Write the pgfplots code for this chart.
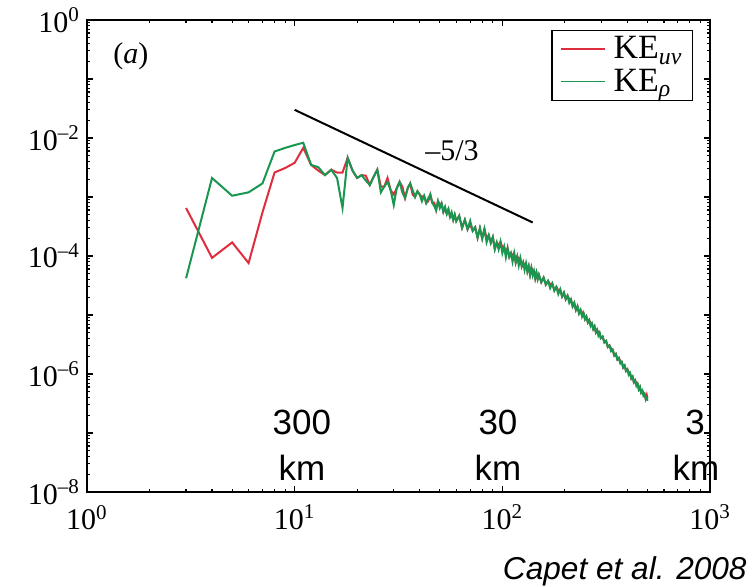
\documentclass[border=0pt]{standalone}
\usepackage{pgfplots}
\pgfplotsset{compat=1.18}
\usepackage{fontspec}
\setmainfont{Liberation Serif}
\newfontfamily\arial{Liberation Sans}
\definecolor{kered}{RGB}{222,45,60}
\definecolor{kegreen}{RGB}{25,150,80}
\begin{document}
\begin{tikzpicture}
\useasboundingbox (-43.5pt,-47.5pt) rectangle (333.5pt,246pt);
\begin{axis}[
  xmode=log, ymode=log,
  scale only axis, width=311.5pt, height=236pt,
  xmin=1, xmax=1000, ymin=1e-8, ymax=1,
  clip mode=individual,
  xtick={1,10,100,1000},
  xticklabels={10\textsuperscript{0},10\textsuperscript{1},10\textsuperscript{2},10\textsuperscript{3}},
  minor xtick={2,3,4,5,6,7,8,9,20,30,40,50,60,70,80,90,200,300,400,500,600,700,800,900},
  ytick={1e-8,1e-7,1e-6,1e-5,1e-4,1e-3,1e-2,1e-1,1},
  yticklabels={10\textsuperscript{–8},,10\textsuperscript{–6},,10\textsuperscript{–4},,10\textsuperscript{–2},,10\textsuperscript{0}},
  minor ytick={2e-8,3e-8,4e-8,5e-8,6e-8,7e-8,8e-8,9e-8,2e-7,3e-7,4e-7,5e-7,6e-7,7e-7,8e-7,9e-7,2e-6,3e-6,4e-6,5e-6,6e-6,7e-6,8e-6,9e-6,2e-5,3e-5,4e-5,5e-5,6e-5,7e-5,8e-5,9e-5,2e-4,3e-4,4e-4,5e-4,6e-4,7e-4,8e-4,9e-4,2e-3,3e-3,4e-3,5e-3,6e-3,7e-3,8e-3,9e-3,2e-2,3e-2,4e-2,5e-2,6e-2,7e-2,8e-2,9e-2,0.2,0.3,0.4,0.5,0.6,0.7,0.8,0.9},
  tick align=inside,
  major tick length=3pt, minor tick length=1.6pt,
  axis line style={line width=0.8pt},
  every tick/.append style={black, line width=0.6pt},
  tick label style={font=\fontsize{15}{18}\selectfont},
  xticklabel style={yshift=-3pt},
  legend style={at={(0.9727,0.9788)}, anchor=north east, draw=black, line width=0.6pt,
    font=\fontsize{17}{17}\selectfont, inner xsep=4pt, inner ysep=2pt, row sep=1.5pt,
    nodes={inner sep=1pt}, /tikz/every odd column/.append style={column sep=3pt}},
  legend image code/.code={\draw[#1, line width=0.8pt] (0pt,0pt) -- (22pt,0pt);},
  legend cell align=left,
]
\addplot[kered, line width=1pt] coordinates {
(3,6.5e-4)(4,9.3e-5)(5,1.7e-4)(6,7.6e-5)(7,5.5e-4)(8,2.6e-3)(9,3.1e-3)(10,3.8e-3)(11,6.8e-3)
(12,3.5e-3)(13,2.8e-3)(14,2.35e-3)(15,2.9e-3)(16,2.6e-3)(17,2.6e-3)(18,4.6e-3)(19,2.8e-3)(20,2.1e-3)
(21,2.35e-3)(22,2.3e-3)(23,1.6e-3)(24,2.2e-3)(25,2.9e-3)(26,1.5e-3)(27,1.5e-3)(28,2.1e-3)(29,1.3e-3)(30,1.1e-3)
(31,1.4e-3)(32,1.8e-3)(33,1.5e-3)(34,9.6e-4)(35,1.4e-3)(36,1.7e-3)(37,1.1e-3)(38,1.0e-3)(39,1.25e-3)(40,1.1e-3)
(41,1.0e-3)(42,1.05e-3)(43,7.9e-4)(44,8.5e-4)(45,1.1e-3)(46,8.0e-4)(47,8.0e-4)(48,6.0e-4)(49,8.5e-4)(50,7.5e-4)
(51,7.8e-4)(52,5.6e-4)(53,6.2e-4)(54,5.2e-4)(55,6.2e-4)(56,4.6e-4)(57,5.0e-4)(58,4.1e-4)(59,5.0e-4)(60,3.9e-4)
(62,4.8e-4)(64,3.0e-4)(66,4.1e-4)(68,2.85e-4)(70,3.4e-4)(72,2.67e-4)(74,3.07e-4)(76,2.04e-4)(78,2.96e-4)(80,1.98e-4)
(82,2.86e-4)(84,2.0e-4)(86,2.25e-4)(88,1.67e-4)(90,2.09e-4)(92,1.31e-4)(94,1.7e-4)(96,1.5e-4)(98,1.74e-4)(100,1.4e-4)
(102,1.44e-4)(104,1.15e-4)(106,1.36e-4)(108,9.7e-5)(110,1.12e-4)(112,1.0e-4)(114,1.12e-4)(116,7.8e-5)(118,9.8e-5)(120,8.8e-5)
(122,9.2e-5)(124,6.7e-5)(126,7.8e-5)(128,7.0e-5)(130,7.5e-5)(132,5.5e-5)(134,6.7e-5)(136,4.85e-5)(138,6.3e-5)(140,5.6e-5)
(142,5.6e-5)(144,4.2e-5)(146,5.2e-5)(148,4.07e-5)(150,4.8e-5)
(154,3.6e-5)(158,4.3e-5)(162,3.27e-5)(166,3.77e-5)(170,3.3e-5)(174,3.43e-5)(178,2.6e-5)(182,2.99e-5)(186,2.6e-5)(190,2.72e-5)
(194,2.06e-5)(198,2.39e-5)(202,1.85e-5)(206,2.12e-5)(210,1.85e-5)(214,1.84e-5)(218,1.4e-5)(222,1.6e-5)(226,1.22e-5)(230,1.4e-5)
(234,1.07e-5)(238,1.22e-5)(242,1.1e-5)(246,1.08e-5)(250,8.5e-6)(254,9.4e-6)(258,7.5e-6)(262,8.2e-6)(266,7.3e-6)(270,7.2e-6)
(274,5.8e-6)(278,6.4e-6)(282,5.1e-6)(286,5.6e-6)(290,5.0e-6)(294,5.0e-6)(298,4.05e-6)
(304,4.3e-6)(310,3.44e-6)(316,3.64e-6)(322,2.88e-6)(328,3.05e-6)(334,2.7e-6)(340,2.58e-6)(346,2.06e-6)(352,2.19e-6)(358,1.76e-6)
(364,1.87e-6)(370,1.65e-6)(376,1.6e-6)(382,1.29e-6)(388,1.39e-6)(394,1.13e-6)(400,1.2e-6)(406,1.08e-6)(412,1.04e-6)(418,8.4e-7)
(424,9.0e-7)(430,7.25e-7)(436,7.8e-7)(442,7.0e-7)(448,6.85e-7)(454,5.5e-7)(460,6.0e-7)(466,4.85e-7)(472,5.2e-7)(478,4.8e-7)
(484,4.6e-7)(490,3.8e-7)(496,4.4e-7)(500,3.9e-7)
};
\addlegendentry{KE\textsubscript{\textit{uv}}}
\addplot[kegreen, line width=1pt] coordinates {
(3,4.2e-5)(4,2.1e-3)(5,1.05e-3)(6,1.2e-3)(7,1.7e-3)(8,5.9e-3)(9,6.8e-3)(10,7.6e-3)(11,8.3e-3)
(12,3.5e-3)(13,3.2e-3)(14,2.35e-3)(15,2.9e-3)(16,2.1e-3)(17,6.5e-4)(18,4.6e-3)(19,2.8e-3)(20,2.1e-3)
(21,2.35e-3)(22,1.9e-3)(23,1.6e-3)(24,2.2e-3)(25,2.9e-3)(26,1.2e-3)(27,1.5e-3)(28,1.8e-3)(29,1.3e-3)(30,7.3e-4)
(31,1.4e-3)(32,1.8e-3)(33,1.2e-3)(34,9.6e-4)(35,1.4e-3)(36,1.7e-3)(37,1.3e-3)(38,1.0e-3)(39,1.25e-3)(40,1.1e-3)
(41,8.5e-4)(42,1.05e-3)(43,7.9e-4)(44,9.5e-4)(45,1.1e-3)(46,8.0e-4)(47,7.0e-4)(48,6.0e-4)(49,8.5e-4)(50,6.5e-4)
(51,7.8e-4)(52,5.6e-4)(53,6.8e-4)(54,5.2e-4)(55,6.2e-4)(56,4.6e-4)(57,5.5e-4)(58,4.1e-4)(59,5.0e-4)(60,3.9e-4)
(62,4.8e-4)(64,3.0e-4)(66,4.1e-4)(68,2.85e-4)(70,3.95e-4)(72,2.67e-4)(74,3.07e-4)(76,2.04e-4)(78,2.96e-4)(80,1.98e-4)
(82,2.86e-4)(84,1.71e-4)(86,2.25e-4)(88,1.67e-4)(90,2.09e-4)(92,1.31e-4)(94,1.7e-4)(96,1.29e-4)(98,1.74e-4)(100,1.12e-4)
(102,1.44e-4)(104,9.5e-5)(106,1.36e-4)(108,9.7e-5)(110,1.12e-4)(112,8.0e-5)(114,1.12e-4)(116,7.8e-5)(118,9.8e-5)(120,6.9e-5)
(122,9.2e-5)(124,6.7e-5)(126,7.8e-5)(128,5.8e-5)(130,7.5e-5)(132,5.5e-5)(134,6.7e-5)(136,4.85e-5)(138,6.3e-5)(140,4.7e-5)
(142,5.6e-5)(144,4.2e-5)(146,5.2e-5)(148,4.07e-5)(150,4.8e-5)
(154,3.6e-5)(158,4.3e-5)(162,3.27e-5)(166,3.77e-5)(170,2.85e-5)(174,3.43e-5)(178,2.6e-5)(182,2.99e-5)(186,2.26e-5)(190,2.72e-5)
(194,2.06e-5)(198,2.39e-5)(202,1.85e-5)(206,2.12e-5)(210,1.61e-5)(214,1.84e-5)(218,1.4e-5)(222,1.6e-5)(226,1.22e-5)(230,1.4e-5)
(234,1.07e-5)(238,1.22e-5)(242,9.4e-6)(246,1.08e-5)(250,8.5e-6)(254,9.4e-6)(258,7.5e-6)(262,8.2e-6)(266,6.5e-6)(270,7.2e-6)
(274,5.8e-6)(278,6.4e-6)(282,5.1e-6)(286,5.6e-6)(290,4.5e-6)(294,5.0e-6)(298,4.05e-6)
(304,4.3e-6)(310,3.44e-6)(316,3.64e-6)(322,2.88e-6)(328,3.05e-6)(334,2.44e-6)(340,2.58e-6)(346,2.06e-6)(352,2.19e-6)(358,1.76e-6)
(364,1.87e-6)(370,1.51e-6)(376,1.6e-6)(382,1.29e-6)(388,1.39e-6)(394,1.13e-6)(400,1.2e-6)(406,9.7e-7)(412,1.04e-6)(418,8.4e-7)
(424,9.0e-7)(430,7.25e-7)(436,7.8e-7)(442,6.3e-7)(448,6.85e-7)(454,5.5e-7)(460,6.0e-7)(466,4.85e-7)(472,5.2e-7)(478,4.3e-7)
(484,4.6e-7)(490,3.8e-7)(496,4.0e-7)(500,3.5e-7)
};
\addlegendentry{KE\textsubscript{\textit{ρ}}}
\addplot[black, line width=1pt, forget plot] coordinates {(10,0.03)(140,3.7e-4)};
\node[anchor=base west, inner sep=0, font=\fontsize{15}{18}\selectfont] at (rel axis cs:0.0417,0.907) {(\textit{a})};
\node[anchor=base west, inner sep=0, font=\fontsize{15}{18}\selectfont] at (rel axis cs:0.5425,0.703) {–5/3};
\node[anchor=base, inner sep=0, font=\arial\fontsize{17.5}{20}\selectfont] at (rel axis cs:0.345,0.1208) {300};
\node[anchor=base, inner sep=0, font=\arial\fontsize{17.5}{20}\selectfont] at (rel axis cs:0.345,0.0254) {km};
\node[anchor=base, inner sep=0, font=\arial\fontsize{17.5}{20}\selectfont] at (rel axis cs:0.6597,0.1208) {30};
\node[anchor=base, inner sep=0, font=\arial\fontsize{17.5}{20}\selectfont] at (rel axis cs:0.6597,0.0254) {km};
\node[anchor=base, inner sep=0, font=\arial\fontsize{17.5}{20}\selectfont] at (rel axis cs:0.976,0.1208) {3};
\node[anchor=base, inner sep=0, font=\arial\fontsize{17.5}{20}\selectfont] at (rel axis cs:0.9775,0.0254) {km};
\end{axis}
\node[anchor=base east, inner sep=0, font=\arial\itshape\fontsize{15.8}{18}\selectfont] at (330pt,-44pt) {Capet et al. 2008};
\end{tikzpicture}
\end{document}
